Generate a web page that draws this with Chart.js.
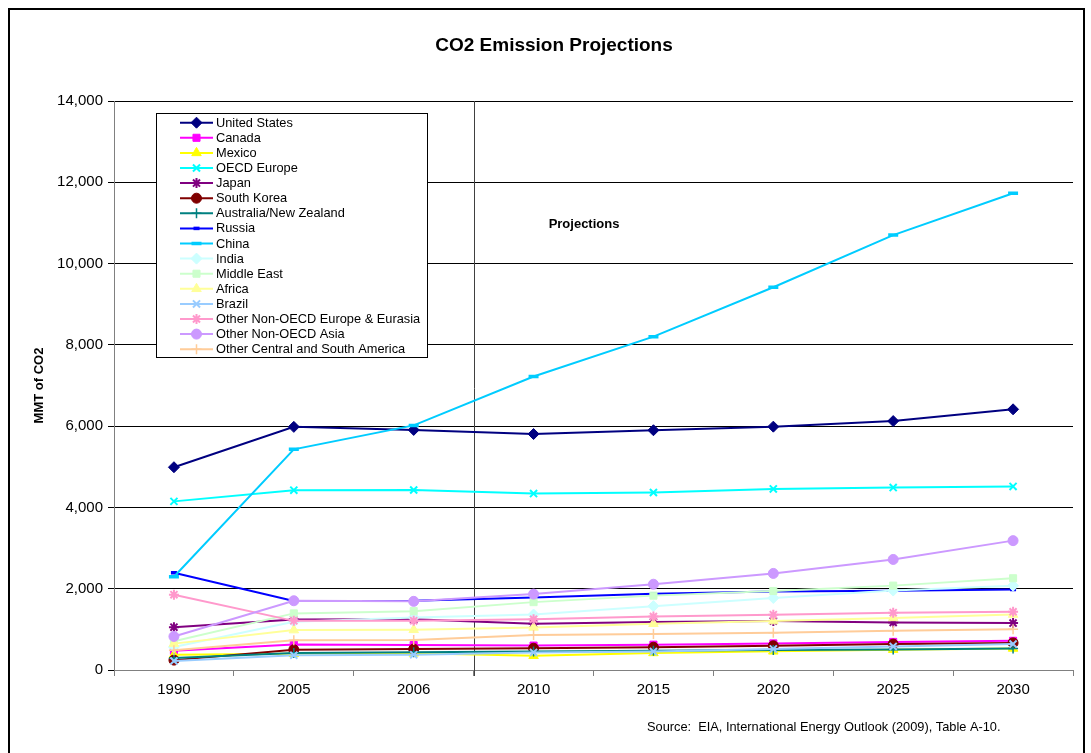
<!DOCTYPE html>
<html>
<head>
<meta charset="utf-8">
<script src="https://cdn.jsdelivr.net/npm/chart.js@4/dist/chart.umd.min.js"></script>
<style>
html,body{margin:0;padding:0;background:#fff;}
#wrap{width:1091px;height:753px;}
</style>
</head>
<body>
<div id="wrap"><canvas id="c" width="1091" height="753"></canvas></div>
<script>
// ---- data ----
const categories = ['1990','2005','2006','2010','2015','2020','2025','2030'];
const yTicks = [0, 2000, 4000, 6000, 8000, 10000, 12000, 14000];
const seriesNames = ['United States','Canada','Mexico','OECD Europe','Japan','South Korea','Australia/New Zealand','Russia','China','India','Middle East','Africa','Brazil','Other Non-OECD Europe & Eurasia','Other Non-OECD Asia','Other Central and South America'];
const unitedStates = [4989, 5982, 5907, 5806, 5899, 5987, 6125, 6414];
const canada = [471, 628, 614, 601, 623, 654, 691, 718];
const mexico = [374, 400, 410, 350, 420, 460, 500, 530];
const oecdEurope = [4149, 4424, 4429, 4341, 4367, 4455, 4489, 4517];
const japan = [1054, 1242, 1247, 1139, 1182, 1205, 1171, 1155];
const southKorea = [243, 500, 515, 536, 561, 596, 638, 667];
const australiaNZ = [298, 421, 439, 457, 474, 492, 505, 530];
const russia = [2393, 1698, 1704, 1786, 1876, 1931, 1951, 1983];
const china = [2293, 5429, 6018, 7222, 8202, 9417, 10700, 11730];
const india = [565, 1187, 1293, 1365, 1571, 1772, 1955, 2075];
const middleEast = [705, 1393, 1448, 1670, 1830, 1944, 2076, 2257];
const africa = [649, 982, 989, 1048, 1138, 1204, 1281, 1364];
const brazil = [221, 362, 377, 432, 453, 519, 581, 639];
const otherEurasia = [1853, 1209, 1214, 1249, 1317, 1362, 1410, 1434];
const otherAsia = [825, 1704, 1689, 1867, 2110, 2376, 2720, 3183];
const otherCSAmerica = [483, 734, 741, 862, 884, 917, 966, 1005];

const seriesValues = [unitedStates, canada, mexico, oecdEurope, japan, southKorea, australiaNZ, russia, china, india, middleEast, africa, brazil, otherEurasia, otherAsia, otherCSAmerica];

// ---- styles ----
const colors = ['#000080','#FF00FF','#FFFF00','#00FFFF','#800080','#800000','#008080','#0000FF','#00CCFF','#CCFFFF','#CCFFCC','#FFFF99','#99CCFF','#FF99CC','#CC99FF','#FFCC99'];
const styles = [
  {ps:'rectRot', r:5.5, bw:1, fill:true},
  {ps:'rect', r:5, bw:1, fill:true},
  {ps:'triangle', r:5.5, bw:1, fill:true},
  {ps:'crossRot', r:5, bw:2, fill:false},
  {ps:'star', r:5, bw:2, fill:false},
  {ps:'circle', r:5, bw:1, fill:true},
  {ps:'cross', r:5, bw:1.5, fill:false},
  {ps:'line', r:3, bw:3.5, fill:false},
  {ps:'line', r:5, bw:3.5, fill:false},
  {ps:'rectRot', r:5.5, bw:1, fill:true},
  {ps:'rect', r:5, bw:1, fill:true},
  {ps:'triangle', r:5.5, bw:1, fill:true},
  {ps:'crossRot', r:5, bw:2, fill:false},
  {ps:'star', r:5, bw:2, fill:false},
  {ps:'circle', r:5, bw:1, fill:true},
  {ps:'cross', r:5, bw:1.5, fill:false}
];

const FONT = 'Arial, "Liberation Sans", Helvetica, sans-serif';

const datasets = seriesNames.map((name, i) => ({
  label: name,
  data: seriesValues[i],
  borderColor: colors[i],
  backgroundColor: colors[i],
  borderWidth: 2,
  pointStyle: styles[i].ps,
  pointRadius: styles[i].r,
  pointBorderWidth: styles[i].bw,
  pointBackgroundColor: colors[i],
  pointBorderColor: colors[i],
  tension: 0,
  fill: false,
  order: seriesNames.length - i
}));

const decor = {
  id: 'decor',
  beforeDraw(chart) {
    const ctx = chart.ctx;
    ctx.save();
    ctx.fillStyle = '#fff';
    ctx.fillRect(0, 0, chart.width, chart.height);
    ctx.restore();
  },
  beforeDatasetsDraw(chart) {
    const ctx = chart.ctx;
    const xs = chart.scales.x, area = chart.chartArea;
    const xDiv = (xs.getPixelForValue(2) + xs.getPixelForValue(3)) / 2;
    ctx.save();
    ctx.strokeStyle = '#404040';
    ctx.lineWidth = 1;
    ctx.beginPath();
    ctx.moveTo(Math.round(xDiv) + 0.5, area.top);
    ctx.lineTo(Math.round(xDiv) + 0.5, area.bottom + 6);
    ctx.stroke();
    ctx.fillStyle = '#000';
    ctx.font = 'bold 13px ' + FONT;
    ctx.textBaseline = 'middle';
    ctx.textAlign = 'left';
    ctx.fillText('Projections', xDiv + 75, 224);
    ctx.restore();
  },
  afterDraw(chart) {
    const ctx = chart.ctx;
    ctx.save();
    // outer border
    ctx.strokeStyle = '#000';
    ctx.lineWidth = 2;
    ctx.strokeRect(9, 9, 1075, 800);
    // title
    ctx.fillStyle = '#000';
    ctx.font = 'bold 19px ' + FONT;
    ctx.textAlign = 'center';
    ctx.textBaseline = 'middle';
    ctx.fillText('CO2 Emission Projections', 554, 46);
    // source
    ctx.font = '12.8px ' + FONT;
    ctx.textAlign = 'left';
    ctx.fillText('Source:  EIA, International Energy Outlook (2009), Table A-10.', 647, 727);
    // legend
    ctx.fillStyle = '#fff';
    ctx.fillRect(156, 113, 272, 245);
    ctx.strokeStyle = '#000';
    ctx.lineWidth = 1;
    ctx.strokeRect(156.5, 113.5, 271, 244);
    ctx.font = '12.8px ' + FONT;
    for (let i = 0; i < seriesNames.length; i++) {
      const y = 122.7 + i * 15.1;
      ctx.strokeStyle = colors[i];
      ctx.lineWidth = 2;
      ctx.beginPath();
      ctx.moveTo(180, y);
      ctx.lineTo(213, y);
      ctx.stroke();
      ctx.fillStyle = colors[i];
      ctx.strokeStyle = colors[i];
      ctx.lineWidth = styles[i].bw;
      Chart.helpers.drawPoint(ctx, {pointStyle: styles[i].ps, radius: styles[i].r, rotation: 0, borderWidth: styles[i].bw}, 196.5, y);
      ctx.fillStyle = '#000';
      ctx.textAlign = 'left';
      ctx.textBaseline = 'middle';
      ctx.fillText(seriesNames[i], 216, y + 0.5);
    }
    ctx.restore();
  }
};

new Chart(document.getElementById('c'), {
  type: 'line',
  data: { labels: categories, datasets: datasets },
  options: {
    responsive: false,
    animation: false,
    events: [],
    layout: { padding: { top: 101, left: 25, right: 18, bottom: 53 } },
    plugins: { legend: { display: false }, title: { display: false }, tooltip: { enabled: false } },
    scales: {
      x: {
        type: 'category',
        offset: true,
        grid: { display: true, offset: true, drawOnChartArea: false, drawTicks: true, tickLength: 6, color: '#808080' },
        border: { display: true, color: '#808080', width: 1 },
        ticks: { color: '#000', font: { family: FONT, size: 15 }, padding: 5, maxRotation: 0, autoSkip: false },
        afterFit(scale) { scale.height = 30; }
      },
      y: {
        min: 0, max: 14000,
        afterBuildTicks(scale) { scale.ticks = yTicks.map(v => ({ value: v })); },
        grid: { color: '#000', lineWidth: 1, tickLength: 6, drawTicks: true },
        border: { display: true, color: '#808080', width: 1 },
        ticks: { color: '#000', font: { family: FONT, size: 15 }, padding: 5,
          callback: v => Number(v).toLocaleString('en-US') },
        title: { display: true, text: 'MMT of CO2', color: '#000', font: { family: FONT, size: 13, weight: 'bold' }, padding: { top: 7, bottom: 0 } },
        afterFit(scale) { scale.width = 89; }
      }
    }
  },
  plugins: [decor]
});
</script>
</body>
</html>
